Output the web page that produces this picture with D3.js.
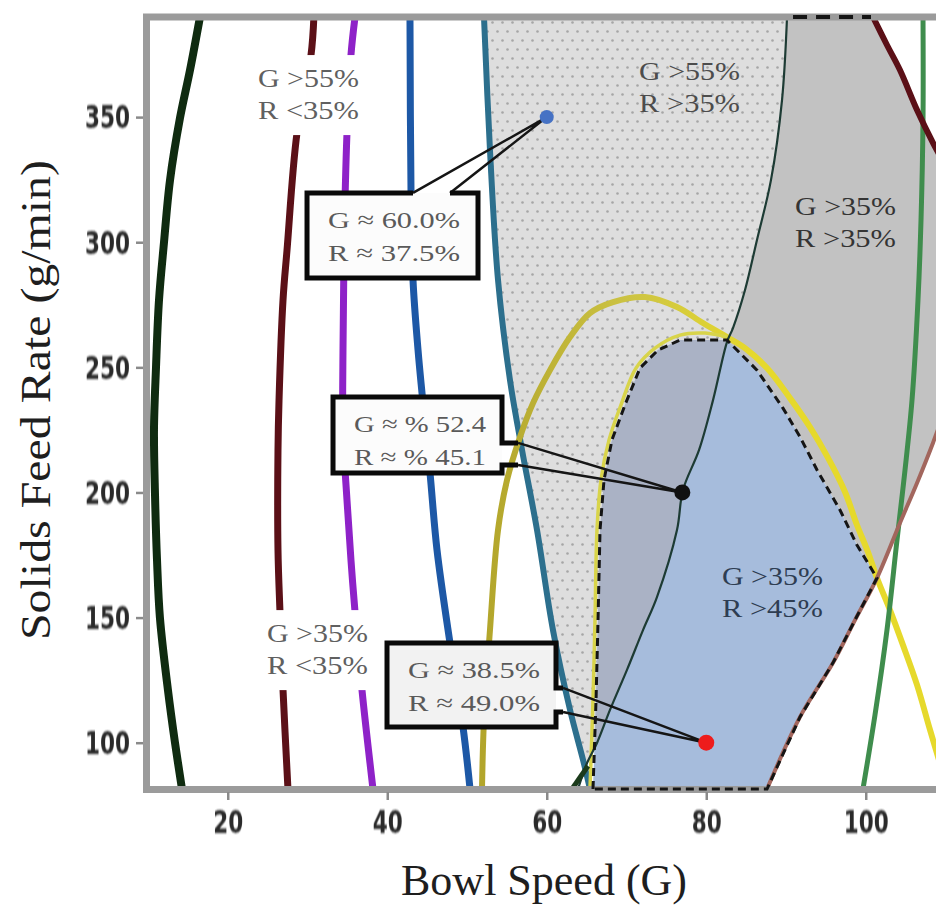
<!DOCTYPE html>
<html>
<head>
<meta charset="utf-8">
<script src="https://cdn.jsdelivr.net/npm/d3@7"></script>
<style>
  html, body { margin: 0; padding: 0; background: #fff; }
  svg { display: block; }
</style>
</head>
<body>
<svg id="chart" width="936" height="906"></svg>
<script>
// ---------------- data (bowl speed G, solids feed rate g/min) ----------------
const speedDomain = [10, 112];
const feedDomain = [81.5, 390];
const xTicks = [20, 40, 60, 80, 100];
const yTicks = [100, 150, 200, 250, 300, 350];

const lineDarkGreen = [[16.52,390],[15.27,368.8],[14.01,349.6],[12.76,324.8],[12.0,299.7],[11.38,276.9],[11.0,249.7],[10.75,225.0],[10.88,199.0],[11.13,173.0],[11.5,149.8],[12.5,121.1],[13.39,99.9],[14.26,81.5]];
const lineMaroon = [[30.8,390],[30.44,374.8],[28.68,343.6],[27.43,296.8],[26.93,276.9],[26.43,236.9],[26.3,217.0],[26.3,177.0],[26.55,152.2],[26.93,121.1],[27.55,81.5]];
const linePurple = [[35.96,390],[35.45,374.8],[34.95,343.6],[34.58,296.8],[34.45,256.9],[34.45,225.0],[34.95,197.0],[35.45,173.0],[35.96,152.2],[36.83,121.1],[38.21,81.5]];
const lineBlue = [[42.85,390],[42.98,319.7],[43.23,284.9],[43.86,256.9],[44.36,239.7],[45.36,207.8],[46.24,177.0],[47.87,139.8],[49.5,106.3],[50.38,81.5]];
const lineTeal = [[52.13,390],[52.88,336.9],[53.89,284.9],[55.39,244.9],[56.9,217.0],[58.78,185.0],[60.78,145.0],[62.92,113.1],[64.55,93.1],[65.42,81.5]];
const lineRidge = [[90.13,390],[89.5,356.8],[88.12,324.9],[86.36,300.9],[84.86,280.9],[83.35,265.7],[82.6,260.1],[80.85,236.9],[79.1,217.0],[77.08,201.0],[76.33,185.0],[73.82,158.2],[72.07,145.0],[70.06,129.1],[67.93,113.1],[66.3,99.9],[65.05,91.9],[63.92,81.5]];
const lineYellowOuter = [[51.88,81.5],[52.13,109.1],[52.88,145.0],[53.89,185.0],[55.02,205.0],[56.65,222.2],[58.28,235.7],[60.41,248.9],[62.92,262.1],[65.42,271.7],[68.31,276.1],[72.32,278.1],[76.33,274.1],[79.59,267.7],[82.6,262.1],[84.86,257.7],[87.62,249.7],[90.5,237.7],[93.01,226.1],[95.27,213.8],[97.4,200.2],[98.9,187.0],[100.28,176.2],[101.41,165.8],[103.04,153.0],[104.67,139.0],[106.43,123.1],[108.06,105.1],[109.56,89.1]];
const lineYellowInner = [[65.42,81.5],[65.8,117.1],[66.05,149.0],[66.3,185.0],[66.8,205.0],[67.81,221.0],[69.31,235.0],[71.19,249.7],[73.57,257.7],[76.71,262.9],[79.84,263.7],[82.6,262.1]];
const lineGreen = [[107.18,390],[107.18,348.8],[106.93,308.9],[106.55,276.9],[105.8,236.9],[104.92,208.9],[103.92,181.0],[102.66,145.0],[101.16,111.1],[99.65,81.5]];
const lineMaroonRight = [[100.91,390],[102.66,378.8],[104.29,368.8],[106.43,352.8],[108.43,339.7],[110.31,328.9]];
const lineBrown = [[109.94,233.0],[108.43,219.8],[106.43,203.8],[104.29,187.8],[101.41,165.8],[98.65,149.0],[95.89,131.9],[91.76,110.3],[87.62,81.5]];
const lineDarkStub = [[63.17,81.5],[65.17,90.7]];

// region where G > 35% and R > 45%
const regionHighR = [[65.8,81.5],[66.18,117.1],[66.43,149.0],[66.68,185.0],[67.18,205.0],[68.18,221.0],[69.81,235.0],[71.69,249.7],[73.95,256.9],[76.71,260.9],[82.6,260.9],[86.36,248.9],[89.62,233.7],[91.76,222.2],[93.89,209.0],[96.77,193.0],[98.9,179.0],[101.41,165.8],[98.65,149.0],[95.89,131.9],[91.76,110.3],[87.62,81.5]];

// region where G > 55% and R > 35%: between the teal contour and the ridge
const regionHighG = lineTeal.slice(0, 9).concat(lineRidge.slice(0, 17).reverse());
// region where G > 35% and R > 35%
const regionMid = lineRidge.slice(0, 7)
  .concat(regionHighR.slice(11, 18))
  .concat(lineBrown.slice(0, 4).reverse())
  .concat([[speedDomain[1], 233.0], [speedDomain[1], 328.9]])
  .concat(lineMaroonRight.slice().reverse());

const regionLabelText = [
  ["G >55%", "R <35%"],
  ["G >35%", "R <35%"],
  ["G >55%", "R >35%"],
  ["G >35%", "R >35%"],
  ["G >35%", "R >45%"]
];
const regionLabelAt = [[23.79, 362.0], [24.92, 140.2], [71.57, 364.8], [91.13, 310.9], [81.97, 163.0]];

const calloutText = [
  ["G ≈ 60.0%", "R ≈ 37.5%"],
  ["G ≈ % 52.4", "R ≈ % 45.1"],
  ["G ≈ 38.5%", "R ≈ 49.0%"]
];
const calloutPoints = [[60, 350], [77, 200], [80, 100]];

// ---------------- layout ----------------
const svg = d3.select("#chart");
const x = d3.scaleLinear().domain(speedDomain).range([148, 961.45]);
const y = d3.scaleLinear().domain(feedDomain).range([789, 17]);

// callout box frames, in axis units
const calloutBoxes = [
  { x0: 29.94, x1: 51.38, top: 319.7, bottom: 285.7, side: "top", a: 43.23, b: 47.87 },
  { x0: 33.2, x1: 54.39, top: 238.1, bottom: 207.8, side: "right", a: 219.8, b: 211.0, step: 56.4 },
  { x0: 39.97, x1: 61.16, top: 139.8, bottom: 106.3, side: "right", a: 121.9, b: 112.3, step: 62.04 }
];

const labelStyle = [
  { fill: "#606060", bg: true },
  { fill: "#606060", bg: true },
  { fill: "#4c4c4c", bg: false },
  { fill: "#343434", bg: false },
  { fill: "#2e3d52", bg: false }
];
const pointColors = ["#4672c4", "#111111", "#ee1c1c"];

const defs = svg.append("defs");
defs.append("clipPath").attr("id", "plotClip")
  .append("rect").attr("x", 146.5).attr("y", 17).attr("width", 800).attr("height", 772.5);

const pat = defs.append("pattern").attr("id", "dots")
  .attr("patternUnits", "userSpaceOnUse").attr("width", 10).attr("height", 18);
pat.append("rect").attr("width", 10).attr("height", 18).attr("fill", "#dedede");
pat.append("circle").attr("cx", 2.5).attr("cy", 4.5).attr("r", 1.3).attr("fill", "#a6a6a6");
pat.append("circle").attr("cx", 7.5).attr("cy", 13.5).attr("r", 1.3).attr("fill", "#a6a6a6");

defs.append("clipPath").attr("id", "highGClip")
  .append("path");

const yg = defs.append("linearGradient").attr("id", "yellowGrad")
  .attr("gradientUnits", "userSpaceOnUse")
  .attr("x1", x(52)).attr("x2", x(86)).attr("y1", 0).attr("y2", 0);
yg.append("stop").attr("offset", 0).attr("stop-color", "#b2a52b");
yg.append("stop").attr("offset", 0.55).attr("stop-color", "#cdc444");
yg.append("stop").attr("offset", 1).attr("stop-color", "#e6d92c");

const blur = defs.append("filter").attr("id", "soft").attr("x", "-10%").attr("y", "-10%").attr("width", "120%").attr("height", "120%");
blur.append("feGaussianBlur").attr("stdDeviation", 0.7);

const curve = d3.line().x(d => x(d[0])).y(d => y(d[1])).curve(d3.curveCatmullRom.alpha(0.5));
const poly = d3.line().x(d => x(d[0])).y(d => y(d[1])).curve(d3.curveLinearClosed);

defs.select("#highGClip path").attr("d", poly(regionHighG));

// ---------------- filled regions ----------------
const plot = svg.append("g").attr("clip-path", "url(#plotClip)");
plot.append("path").attr("d", poly(regionMid)).attr("fill", "#c2c2c2");
plot.append("path").attr("d", poly(regionHighG)).attr("fill", "url(#dots)");
plot.append("path").attr("d", poly(regionHighR)).attr("fill", "#a6bcdc");
plot.append("path").attr("d", poly(regionHighR)).attr("fill", "#aab2c5")
  .attr("clip-path", "url(#highGClip)");

// ---------------- contour lines ----------------
const contours = [
  { data: lineDarkGreen, stroke: "#0f2b10", width: 8 },
  { data: lineMaroon, stroke: "#5b1017", width: 7 },
  { data: linePurple, stroke: "#8e22c8", width: 7 },
  { data: lineBlue, stroke: "#1d58a6", width: 7 },
  { data: lineTeal, stroke: "#2c6f8d", width: 6 },
  { data: lineYellowOuter, stroke: "url(#yellowGrad)", width: 6 },
  { data: lineYellowInner, stroke: "#d8d44a", width: 3.5 },
  { data: lineGreen, stroke: "#3f8d4d", width: 5 },
  { data: lineMaroonRight, stroke: "#5b1017", width: 6 },
  { data: lineBrown, stroke: "#a2665d", width: 4 },
  { data: lineRidge, stroke: "#1d3b34", width: 2.2 },
  { data: lineDarkStub, stroke: "#1b3b1b", width: 5 }
];
plot.selectAll("path.contour").data(contours).join("path")
  .attr("class", "contour")
  .attr("d", d => curve(d.data))
  .attr("fill", "none")
  .attr("stroke", d => d.stroke)
  .attr("stroke-width", d => d.width)
  .attr("stroke-linejoin", "round");

// ---------------- plot frame ----------------
svg.append("rect")
  .attr("x", 146.5).attr("y", 17).attr("width", 900).attr("height", 772.5)
  .attr("fill", "none").attr("stroke", "#9b9b9b").attr("stroke-width", 7);

// dashed boundaries of the high-R and mid regions
svg.append("path").attr("d", poly(regionHighR))
  .attr("fill", "none").attr("stroke", "#151515").attr("stroke-width", 3)
  .attr("stroke-dasharray", "8 5");
svg.append("line")
  .attr("x1", x(lineRidge[0][0]) + 6).attr("x2", x(lineMaroonRight[0][0]) - 2)
  .attr("y1", y(feedDomain[1])).attr("y2", y(feedDomain[1]))
  .attr("stroke", "#151515").attr("stroke-width", 4).attr("stroke-dasharray", "14 9");

// ---------------- region labels ----------------
const labels = svg.append("g").attr("font-family", "'Liberation Serif', 'Times New Roman', serif")
  .attr("font-size", 26);
regionLabelText.forEach((lines, i) => {
  const lx = x(regionLabelAt[i][0]);
  const ly = y(regionLabelAt[i][1]);
  const st = labelStyle[i];
  if (st.bg) {
    labels.append("rect").attr("x", lx - 8).attr("y", ly - 32)
      .attr("width", 120).attr("height", 80).attr("fill", "#fff");
  }
  lines.forEach((t, j) => {
    labels.append("text").attr("x", lx).attr("y", ly + j * 32)
      .attr("fill", st.fill)
      .attr("textLength", 101).attr("lengthAdjust", "spacingAndGlyphs")
      .text(t);
  });
});

// ---------------- callouts ----------------
const callouts = svg.append("g");
calloutBoxes.forEach((b, i) => {
  const X0 = x(b.x0), X1 = x(b.x1), T = y(b.top), B = y(b.bottom);
  const [px, py] = [x(calloutPoints[i][0]), y(calloutPoints[i][1])];
  callouts.append("rect").attr("x", X0).attr("y", T).attr("width", X1 - X0).attr("height", B - T)
    .attr("fill", i === 2 ? "#f2f2f2" : "#fcfcfc");
  let border, tail;
  if (b.side === "top") {
    const A = x(b.a), C = x(b.b);
    border = `M${A},${T}H${X0}V${B}H${X1}V${T}H${C}`;
    tail = `M${A},${T}L${px},${py}L${C},${T}`;
  } else {
    const A = y(b.a), C = y(b.b), S = x(b.step);
    border = `M${S},${A}H${X1}V${T}H${X0}V${B}H${X1}V${C}H${S}`;
    tail = `M${S},${A}L${px},${py}L${S},${C}`;
  }
  callouts.append("path").attr("d", tail).attr("fill", "none")
    .attr("stroke", "#151515").attr("stroke-width", 2.5).attr("stroke-linejoin", "round");
  callouts.append("path").attr("d", border).attr("fill", "none")
    .attr("stroke", "#0a0a0a").attr("stroke-width", 5).attr("stroke-linejoin", "miter");
  calloutText[i].forEach((t, j) => {
    callouts.append("text").attr("x", X0 + 21).attr("y", T + 35 + j * 33)
      .attr("font-family", "'Liberation Serif', 'Times New Roman', serif")
      .attr("font-size", 24).attr("fill", "#5a5a5a")
      .attr("textLength", 132).attr("lengthAdjust", "spacingAndGlyphs")
      .text(t);
  });
});

// highlighted operating points
svg.selectAll("circle.pt").data(calloutPoints).join("circle")
  .attr("class", "pt")
  .attr("cx", d => x(d[0])).attr("cy", d => y(d[1]))
  .attr("r", (d, i) => i === 0 ? 7 : 8)
  .attr("fill", (d, i) => pointColors[i]);

// ---------------- axes ----------------
// tall, narrow tick numerals: stretch each label about its own centre
const tickFont = (sel, cx, cy) => sel.selectAll(".tick text")
  .attr("font-family", "'DejaVu Sans', sans-serif")
  .attr("font-weight", "bold").attr("font-size", 20).attr("fill", "#2b2b2b")
  .attr("filter", "url(#soft)")
  .attr("transform", `translate(${cx},${cy}) scale(1.08,1.6) translate(${-cx},${-cy})`);

const gx = svg.append("g").attr("transform", "translate(0,792)")
  .call(d3.axisBottom(x).tickValues(xTicks).tickSize(8).tickPadding(14).tickFormat(d3.format("d")));
gx.select(".domain").remove();
gx.selectAll(".tick line").attr("stroke", "#8a8a8a").attr("stroke-width", 2.5);
tickFont(gx, 0, 22 + 0.71 * 20 - 7.3);

const gy = svg.append("g").attr("transform", "translate(143,0)")
  .call(d3.axisLeft(y).tickValues(yTicks).tickSize(7).tickPadding(6).tickFormat(d3.format("d")));
gy.select(".domain").remove();
gy.selectAll(".tick line").attr("stroke", "#8a8a8a").attr("stroke-width", 2.5);
tickFont(gy, -13, 0.32 * 20 - 7.3);

// axis titles
svg.append("text").attr("x", 544).attr("y", 895)
  .attr("text-anchor", "middle")
  .attr("font-family", "'Liberation Serif', 'Times New Roman', serif")
  .attr("font-size", 44).attr("fill", "#1e1e1e")
  .text("Bowl Speed (G)");
svg.append("text").attr("transform", "translate(50,400) rotate(-90)")
  .attr("text-anchor", "middle")
  .attr("font-family", "'Liberation Serif', 'Times New Roman', serif")
  .attr("font-size", 42).attr("fill", "#1e1e1e")
  .attr("textLength", 480).attr("lengthAdjust", "spacingAndGlyphs")
  .text("Solids Feed Rate (g/min)");
</script>
</body>
</html>
